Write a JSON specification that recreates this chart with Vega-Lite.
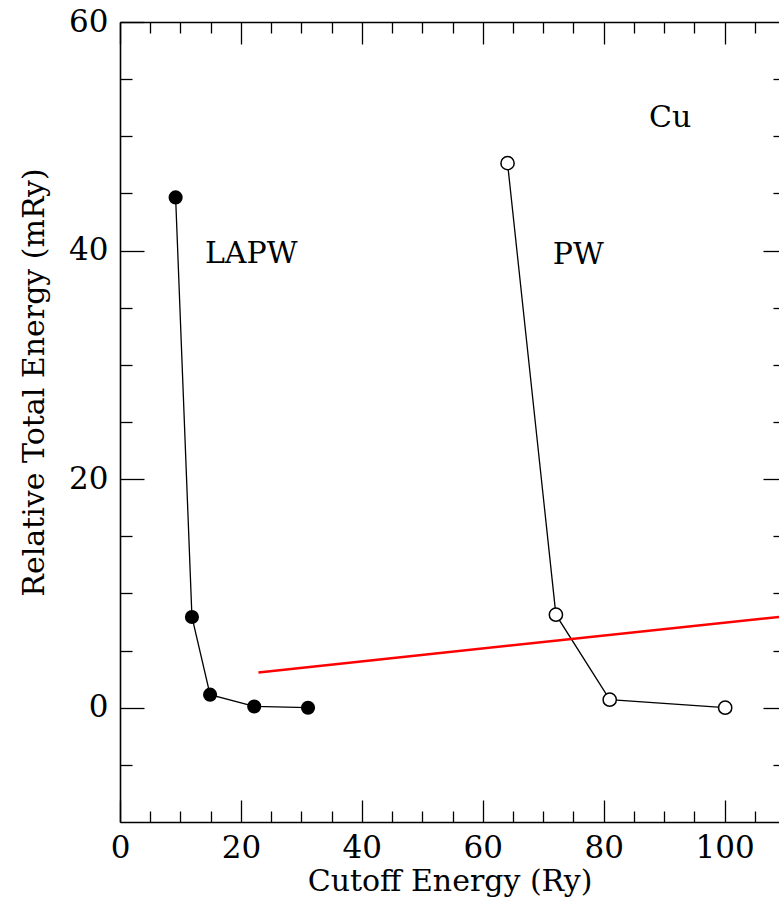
{
  "$schema": "https://vega.github.io/schema/vega-lite/v6.json",
  "width": 659,
  "height": 800,
  "autosize": {"type": "none"},
  "padding": {"left": 120, "top": 22, "right": 0, "bottom": 79},
  "background": "white",
  "config": {
    "view": {"stroke": null},
    "axis": {
      "grid": false,
      "domainColor": "black",
      "tickColor": "black",
      "labelColor": "black",
      "titleColor": "black",
      "labelFont": "DejaVu Serif",
      "titleFont": "DejaVu Serif",
      "labelFontWeight": "normal",
      "titleFontWeight": "normal",
      "tickWidth": 1.3,
      "domainWidth": 1.6,
      "labelFlush": false,
      "labelOverlap": false
    }
  },
  "datasets": {
    "pts": [
      {"method": "LAPW", "cutoff": 9.2, "energy": 44.65},
      {"method": "LAPW", "cutoff": 11.9, "energy": 7.94},
      {"method": "LAPW", "cutoff": 14.9, "energy": 1.14},
      {"method": "LAPW", "cutoff": 22.2, "energy": 0.11},
      {"method": "LAPW", "cutoff": 31.1, "energy": 0.0},
      {"method": "PW", "cutoff": 64.1, "energy": 47.65},
      {"method": "PW", "cutoff": 72.1, "energy": 8.14},
      {"method": "PW", "cutoff": 81.0, "energy": 0.7},
      {"method": "PW", "cutoff": 100.1, "energy": 0.0}
    ],
    "redline": [
      {"cutoff": 22.9, "energy": 3.09},
      {"cutoff": 109, "energy": 7.94}
    ],
    "notes": [
      {"label": "LAPW", "cutoff": 21.7, "energy": 38.9},
      {"label": "PW", "cutoff": 75.8, "energy": 38.8},
      {"label": "Cu", "cutoff": 91.0, "energy": 50.8}
    ]
  },
  "layer": [
    {
      "data": {"name": "pts"},
      "mark": {"type": "line", "color": "black", "strokeWidth": 1.3},
      "encoding": {
        "x": {
          "field": "cutoff", "type": "quantitative",
          "scale": {"domain": [0, 109], "nice": false, "zero": false},
          "axis": {
            "orient": "bottom",
            "values": [0, 20, 40, 60, 80, 100],
            "tickSize": -22,
            "labelPadding": 33,
            "labelFontSize": 31,
            "title": "Cutoff Energy (Ry)",
            "titleFontSize": 30,
            "titleY": 68,
            "titleBaseline": "alphabetic"
          }
        },
        "y": {
          "field": "energy", "type": "quantitative",
          "scale": {"domain": [-10, 60], "nice": false, "zero": false},
          "axis": {
            "orient": "left",
            "values": [0, 20, 40, 60],
            "tickSize": -24,
            "labelPadding": 36,
            "labelFontSize": 31,
            "title": "Relative Total Energy (mRy)",
            "titleFontSize": 30,
            "titleX": -77,
            "titleY": 360,
            "titleBaseline": "alphabetic",
            "titleAlign": "center"
          }
        },
        "detail": {"field": "method"}
      }
    },
    {
      "data": {"name": "redline"},
      "mark": {"type": "line", "color": "#ff0000", "strokeWidth": 2.5},
      "encoding": {
        "x": {
          "field": "cutoff", "type": "quantitative",
          "axis": {
            "orient": "top",
            "values": [5, 10, 15, 25, 30, 35, 45, 50, 55, 65, 70, 75, 85, 90, 95, 105],
            "tickSize": -11,
            "labels": false,
            "domain": false,
            "title": null
          }
        },
        "y": {
          "field": "energy", "type": "quantitative",
          "axis": {
            "orient": "right",
            "values": [-5, 5, 10, 15, 25, 30, 35, 45, 50, 55],
            "tickSize": -6,
            "labels": false,
            "domain": false,
            "title": null
          }
        }
      }
    },
    {
      "data": {"name": "pts"},
      "transform": [{"filter": "datum.method === 'LAPW'"}],
      "mark": {"type": "point", "shape": "circle", "filled": true, "fill": "black", "size": 200, "opacity": 1},
      "encoding": {
        "x": {
          "field": "cutoff", "type": "quantitative",
          "axis": {
            "orient": "bottom",
            "values": [5, 10, 15, 25, 30, 35, 45, 50, 55, 65, 70, 75, 85, 90, 95, 105],
            "tickSize": -11,
            "labels": false,
            "domain": false,
            "title": null
          }
        },
        "y": {
          "field": "energy", "type": "quantitative",
          "axis": {
            "orient": "left",
            "values": [-5, 5, 10, 15, 25, 30, 35, 45, 50, 55],
            "tickSize": -12,
            "labels": false,
            "domain": false,
            "title": null
          }
        }
      }
    },
    {
      "data": {"name": "pts"},
      "transform": [{"filter": "datum.method === 'PW'"}],
      "mark": {"type": "point", "shape": "circle", "filled": true, "fill": "white", "stroke": "black", "strokeWidth": 1.5, "size": 175, "opacity": 1},
      "encoding": {
        "x": {
          "field": "cutoff", "type": "quantitative",
          "axis": {
            "orient": "top",
            "values": [0, 20, 40, 60, 80, 100],
            "tickSize": -22,
            "labels": false,
            "title": null
          }
        },
        "y": {
          "field": "energy", "type": "quantitative",
          "axis": {
            "orient": "right",
            "values": [0, 20, 40],
            "tickSize": -16,
            "labels": false,
            "domain": false,
            "title": null
          }
        }
      }
    },
    {
      "data": {"name": "notes"},
      "mark": {"type": "text", "font": "DejaVu Serif", "fontSize": 30, "align": "center", "baseline": "alphabetic", "color": "black"},
      "encoding": {
        "x": {"field": "cutoff", "type": "quantitative", "axis": null},
        "y": {"field": "energy", "type": "quantitative", "axis": null},
        "text": {"field": "label"}
      }
    }
  ],
  "resolve": {"axis": {"x": "independent", "y": "independent"}}
}
